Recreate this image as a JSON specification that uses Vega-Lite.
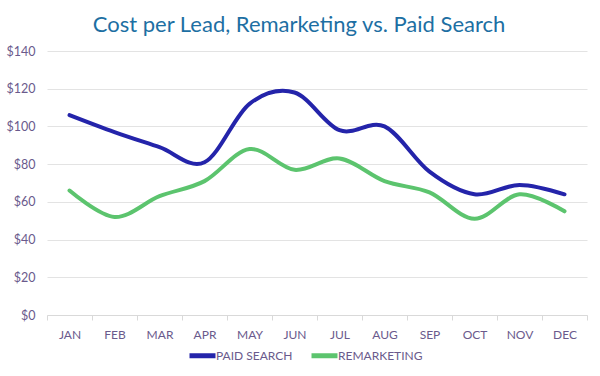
{
  "$schema": "https://vega.github.io/schema/vega-lite/v6.json",
  "autosize": {"type": "none"},
  "width": 540,
  "height": 264,
  "padding": {"top": 51, "left": 47, "right": 13, "bottom": 61},
  "background": "#ffffff",
  "title": {
    "text": "Cost per Lead, Remarketing vs. Paid Search",
    "anchor": "middle",
    "dx": -18,
    "offset": 8,
    "font": "Lato",
    "fontSize": 22,
    "fontWeight": "normal",
    "color": "#1d6fa3"
  },
  "data": {
    "values": [
      {"month": "JAN", "series": "PAID SEARCH", "cpl": 106},
      {"month": "FEB", "series": "PAID SEARCH", "cpl": 97},
      {"month": "MAR", "series": "PAID SEARCH", "cpl": 89},
      {"month": "APR", "series": "PAID SEARCH", "cpl": 81},
      {"month": "MAY", "series": "PAID SEARCH", "cpl": 112},
      {"month": "JUN", "series": "PAID SEARCH", "cpl": 118},
      {"month": "JUL", "series": "PAID SEARCH", "cpl": 98},
      {"month": "AUG", "series": "PAID SEARCH", "cpl": 100},
      {"month": "SEP", "series": "PAID SEARCH", "cpl": 76},
      {"month": "OCT", "series": "PAID SEARCH", "cpl": 64},
      {"month": "NOV", "series": "PAID SEARCH", "cpl": 69},
      {"month": "DEC", "series": "PAID SEARCH", "cpl": 64},
      {"month": "JAN", "series": "REMARKETING", "cpl": 66},
      {"month": "FEB", "series": "REMARKETING", "cpl": 52},
      {"month": "MAR", "series": "REMARKETING", "cpl": 63},
      {"month": "APR", "series": "REMARKETING", "cpl": 71},
      {"month": "MAY", "series": "REMARKETING", "cpl": 88},
      {"month": "JUN", "series": "REMARKETING", "cpl": 77},
      {"month": "JUL", "series": "REMARKETING", "cpl": 83},
      {"month": "AUG", "series": "REMARKETING", "cpl": 71},
      {"month": "SEP", "series": "REMARKETING", "cpl": 65},
      {"month": "OCT", "series": "REMARKETING", "cpl": 51},
      {"month": "NOV", "series": "REMARKETING", "cpl": 64},
      {"month": "DEC", "series": "REMARKETING", "cpl": 55}
    ]
  },
  "mark": {"type": "line", "interpolate": "cardinal", "strokeWidth": 4, "strokeCap": "round"},
  "encoding": {
    "x": {
      "field": "month",
      "type": "nominal",
      "sort": null,
      "bandPosition": 0.5,
      "scale": {"type": "band", "paddingInner": 0, "paddingOuter": 0},
      "axis": {
        "title": null,
        "labelAngle": 0,
        "tickBand": "extent",
        "grid": false,
        "domainColor": "#d9d9d9",
        "tickColor": "#d9d9d9",
        "tickSize": 5,
        "labelPadding": 9,
        "labelFont": "Lato",
        "labelFontSize": 12,
        "labelColor": "#6a5a8c"
      }
    },
    "y": {
      "field": "cpl",
      "type": "quantitative",
      "scale": {"domain": [0, 140]},
      "axis": {
        "title": null,
        "values": [0, 20, 40, 60, 80, 100, 120, 140],
        "format": "$,.0f",
        "domain": false,
        "ticks": false,
        "gridColor": "#e3e3e3",
        "labelPadding": 12,
        "labelFont": "Lato",
        "labelFontSize": 12.5,
        "labelColor": "#6a5a8c"
      }
    },
    "color": {
      "field": "series",
      "type": "nominal",
      "scale": {"domain": ["PAID SEARCH", "REMARKETING"], "range": ["#2424aa", "#5cc46e"]},
      "legend": {
        "title": null,
        "orient": "none",
        "direction": "horizontal",
        "legendX": 140,
        "legendY": 289,
        "symbolType": "stroke",
        "symbolStrokeWidth": 5,
        "symbolSize": 676,
        "labelOffset": -2,
        "columnPadding": 8,
        "labelFont": "Lato",
        "labelFontSize": 12,
        "labelColor": "#6a5a8c"
      }
    }
  },
  "config": {"view": {"stroke": null}}
}
